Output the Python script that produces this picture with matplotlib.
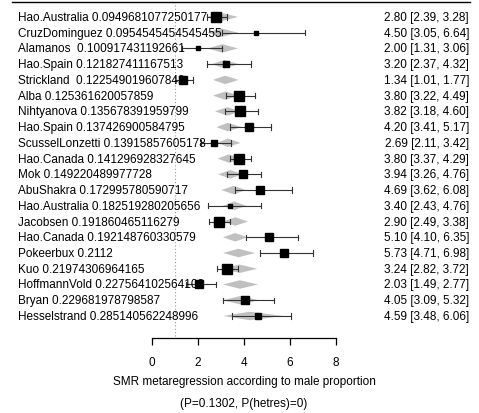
import matplotlib
matplotlib.use("Agg")
import matplotlib.pyplot as plt
from matplotlib.patches import Polygon

# study labels (name + male proportion)
studies = ["Hao.Australia 0.0949681077250177", "CruzDominguez 0.0954545454545455",
           "Alamanos  0.100917431192661", "Hao.Spain 0.121827411167513",
           "Strickland  0.122549019607843", "Alba 0.125361620057859",
           "Nihtyanova 0.135678391959799", "Hao.Spain 0.137426900584795",
           "ScusselLonzetti 0.13915857605178", "Hao.Canada 0.141296928327645",
           "Mok 0.149220489977728", "AbuShakra 0.172995780590717",
           "Hao.Australia 0.182519280205656", "Jacobsen 0.191860465116279",
           "Hao.Canada 0.192148760330579", "Pokeerbux 0.2112",
           "Kuo 0.21974306964165", "HoffmannVold 0.227564102564103",
           "Bryan 0.229681978798587", "Hesselstrand 0.285140562248996"]
smr = [2.80, 4.50, 2.00, 3.20, 1.34, 3.80, 3.82, 4.20, 2.69, 3.80,
       3.94, 4.69, 3.40, 2.90, 5.10, 5.73, 3.24, 2.03, 4.05, 4.59]
ci_lb = [2.39, 3.05, 1.31, 2.37, 1.01, 3.22, 3.18, 3.41, 2.11, 3.37,
         3.26, 3.62, 2.43, 2.49, 4.10, 4.71, 2.82, 1.49, 3.09, 3.48]
ci_ub = [3.28, 6.64, 3.06, 4.32, 1.77, 4.49, 4.60, 5.17, 3.42, 4.29,
         4.76, 6.08, 4.76, 3.38, 6.35, 6.98, 3.72, 2.77, 5.32, 6.06]
# relative weights (box size)
weights = [10, 4, 4, 7, 8, 10, 10, 9, 7, 11, 9, 8, 5, 10, 9, 9, 10, 8, 8, 7]
# fitted values from the metaregression (diamonds)
pred = [3.00, 3.00, 3.05, 3.15, 3.18, 3.20, 3.28, 3.30, 3.30, 3.35,
        3.40, 3.55, 3.58, 3.62, 3.62, 3.76, 3.80, 3.82, 3.85, 4.25]
pred_lb = [2.39, 2.40, 2.43, 2.60, 2.65, 2.65, 2.74, 2.80, 2.82, 2.85,
           2.87, 3.02, 3.08, 3.09, 3.09, 3.09, 3.10, 3.09, 3.07, 3.09]
pred_ub = [3.74, 3.74, 3.74, 3.78, 3.76, 3.78, 3.85, 3.88, 3.85, 3.92,
           3.96, 4.08, 4.10, 4.17, 4.15, 4.48, 4.58, 4.61, 4.65, 5.70]
xticks = [0, 2, 4, 6, 8]

FONT = "Liberation Sans"
plt.rcParams['font.family'] = FONT
plt.rcParams['font.size'] = 8.5

W, H = 479, 414
fig = plt.figure(figsize=(W / 100, H / 100), dpi=100)
# axes spans the 0..8 scale region
ax = fig.add_axes([152 / W, (H - 339) / H, 184 / W, 336 / H])
ax.set_xlim(0, 8)
ax.set_ylim(-0.4, 20.95)

px = 8 / 184  # data units per pixel
k = len(studies)
for i in range(k):
    y = k - i
    # fitted diamond
    dh = 0.27
    ax.add_patch(Polygon([(pred_lb[i], y), (pred[i], y + dh), (pred_ub[i], y), (pred[i], y - dh)],
                         closed=True, facecolor="#c0c0c0", edgecolor="none", zorder=1, clip_on=False))
    # CI
    ax.plot([ci_lb[i], ci_ub[i]], [y, y], color="#333333", lw=0.8, zorder=2, clip_on=False)
    for e in (ci_lb[i], ci_ub[i]):
        ax.plot([e, e], [y - 0.17, y + 0.17], color="#333333", lw=0.8, zorder=2, clip_on=False)
    # box
    s = weights[i]
    ax.plot(smr[i], y, marker="s", ms=s * 0.68, color="black", mec="black", zorder=3, clip_on=False)
    ax.text(-134 * px, y, studies[i], ha="left", va="center", clip_on=False)
    ax.text(317 * px, y, "%.2f [%.2f, %.2f]" % (smr[i], ci_lb[i], ci_ub[i]),
            ha="right", va="center", clip_on=False)

# reference line and top rule
ax.plot([1, 1], [-0.25, 20.95], color="#999999", lw=0.8, ls=(0, (1, 2)), clip_on=False)
ax.plot([-140 * px, 318 * px], [20.95, 20.95], color="black", lw=1.0, clip_on=False)

for side in ("top", "right", "left"):
    ax.spines[side].set_visible(False)
ax.spines["bottom"].set_bounds(0, 8)
ax.spines["bottom"].set_linewidth(0.9)
ax.set_xticks(xticks)
ax.set_xticklabels([str(t) for t in xticks])
ax.tick_params(axis="x", direction="out", length=5, width=0.9, pad=8, labelsize=8.5)
ax.set_yticks([])
ax.patch.set_visible(False)

fig.text(244 / W, (H - 382) / H, "SMR metaregression according to male proportion",
         ha="center", va="center", fontsize=8.5)
fig.text(244 / W, (H - 404) / H, "(P=0.1302, P(hetres)=0)",
         ha="center", va="center", fontsize=8.5)

fig.savefig("out.png", dpi=100)
